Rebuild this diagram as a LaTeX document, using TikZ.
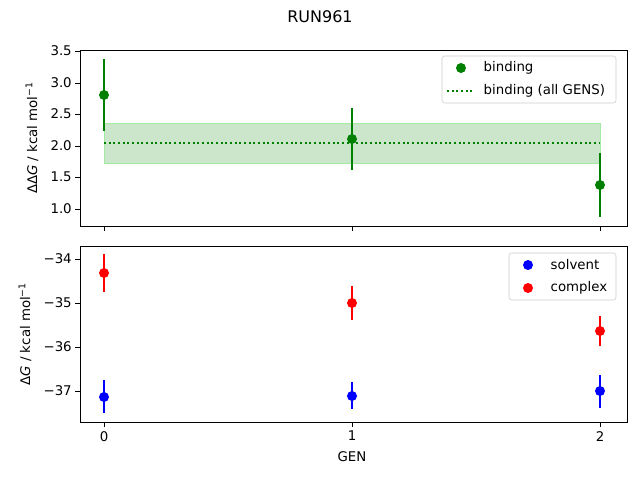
\documentclass[tikz,border=0pt]{standalone}
\usepackage{fontspec}
\setmainfont{DejaVu Sans}
\definecolor{mgreen}{RGB}{0,128,0}
\definecolor{band}{RGB}{204,230,204}
\begin{document}
\begin{tikzpicture}[x=0.75pt,y=-0.75pt,font=\fontsize{10}{12}\selectfont,
  ax/.style={draw=black,line width=0.6pt},
  tk/.style={line width=0.6pt},
  pt/.style={circle,inner sep=0pt,minimum size=7.5pt},
  eb/.style={line width=1.4pt}]
\useasboundingbox (0,0) rectangle (640,480);
\node[font=\fontsize{12}{14}\selectfont] (title) at (320,17) {RUN961};
% top axes
\fill[band,draw=band!80!green] (104,123) rectangle (600,163);
\draw[mgreen,dotted,line width=1.5pt] (104,143) -- (600,143);
\draw[eb,mgreen] (104,59) -- (104,131);
\draw[eb,mgreen] (352,108) -- (352,170);
\draw[eb,mgreen] (600,153) -- (600,217);
\node[pt,fill=mgreen] (g0) at (104,95) {};
\node[pt,fill=mgreen] (g1) at (352,139) {};
\node[pt,fill=mgreen] (g2) at (600,185) {};
\draw[ax] (80,50) rectangle (627,226);
\foreach \y/\l in {51/3.5,83/3.0,114/2.5,146/2.0,177/1.5,209/1.0}{
  \draw[tk] (80,\y) -- (75,\y); \node[anchor=east,inner sep=0pt] at (72,\y) {\l};}
\foreach \x in {104,352,600}{\draw[tk] (\x,226) -- (\x,231);}
\node[rotate=90] (yl1) at (32,138) {ΔΔ\textit{G} / kcal mol\textsuperscript{−1}};
% legend top
\draw[rounded corners=2pt,draw=black!20,fill=white] (442,56) rectangle (616,103);
\node[pt,fill=mgreen] (lg1) at (461,68) {};
\node[anchor=west] at (479,68) {binding};
\draw[mgreen,dotted,line width=1.5pt] (447,91) -- (475,91);
\node[anchor=west] at (479,91) {binding (all GENS)};
% bottom axes
\draw[eb,red] (104,254) -- (104,292);
\draw[eb,red] (352,286) -- (352,320);
\draw[eb,red] (600,316) -- (600,346);
\draw[eb,blue] (104,380) -- (104,413);
\draw[eb,blue] (352,382) -- (352,409);
\draw[eb,blue] (600,375) -- (600,408);
\node[pt,fill=red] (r0) at (104,273) {};
\node[pt,fill=red] (r1) at (352,303) {};
\node[pt,fill=red] (r2) at (600,331) {};
\node[pt,fill=blue] (b0) at (104,397) {};
\node[pt,fill=blue] (b1) at (352,396) {};
\node[pt,fill=blue] (b2) at (600,391) {};
\draw[ax] (80,246) rectangle (627,422);
\foreach \y/\l in {259/−34,303/−35,347/−36,391/−37}{
  \draw[tk] (80,\y) -- (75,\y); \node[anchor=east,inner sep=0pt] at (72,\y) {\l};}
\foreach \x/\l in {104/0,352/1,600/2}{\draw[tk] (\x,422) -- (\x,427);
  \node[anchor=north,inner sep=0pt] at (\x,431) {\l};}
\node[rotate=90] (yl2) at (25,334) {Δ\textit{G} / kcal mol\textsuperscript{−1}};
\node (xl) at (352,457) {GEN};
% legend bottom
\draw[rounded corners=2pt,draw=black!20,fill=white] (509,253) rectangle (616,300);
\node[pt,fill=blue] (lb) at (528,265) {};
\node[anchor=west] at (546,265) {solvent};
\node[pt,fill=red] (lr) at (528,288) {};
\node[anchor=west] at (546,288) {complex};
\end{tikzpicture}
\end{document}
